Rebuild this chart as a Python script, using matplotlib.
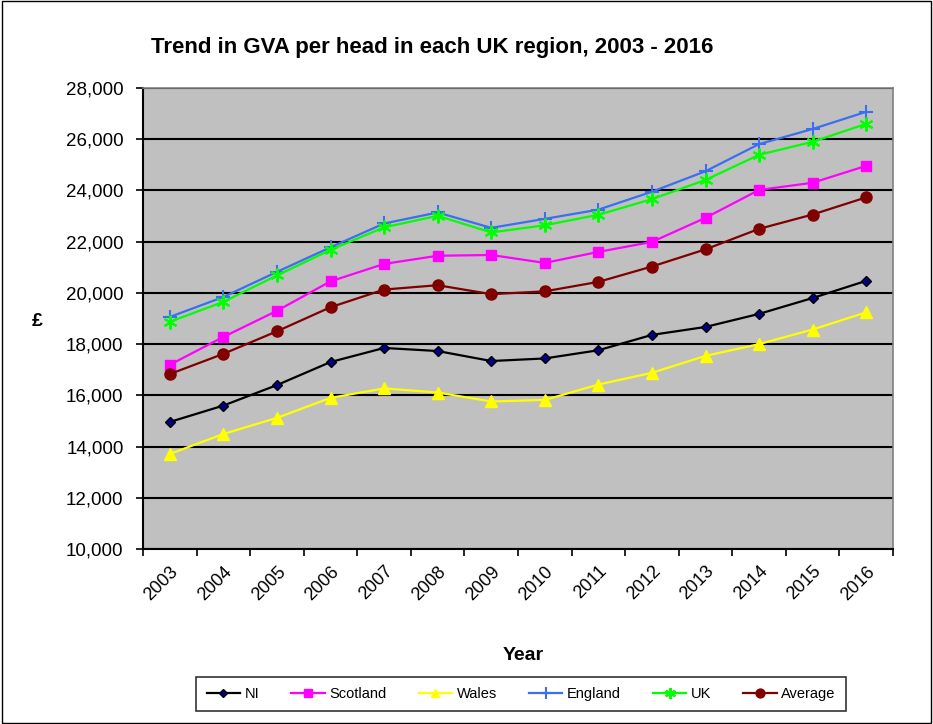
import numpy as np
import matplotlib.pyplot as plt
import matplotlib.transforms as mtransforms
from matplotlib.ticker import FuncFormatter, MultipleLocator, FixedLocator

plt.rcParams['font.family'] = ['Liberation Sans', 'DejaVu Sans']

years = [2003, 2004, 2005, 2006, 2007, 2008, 2009, 2010, 2011, 2012, 2013, 2014, 2015, 2016]
ni = [14960, 15600, 16400, 17300, 17850, 17730, 17340, 17440, 17760, 18360, 18670, 19180, 19800, 20470]
scotland = [17190, 18280, 19300, 20450, 21130, 21450, 21480, 21170, 21600, 21990, 22930, 24020, 24300, 24960]
wales = [13710, 14490, 15120, 15900, 16270, 16110, 15760, 15820, 16420, 16880, 17540, 18000, 18570, 19240]
england = [19060, 19840, 20820, 21780, 22710, 23140, 22540, 22890, 23250, 23950, 24750, 25810, 26400, 27070]
uk = [18870, 19650, 20680, 21680, 22560, 23010, 22360, 22640, 23050, 23660, 24410, 25390, 25900, 26600]
average = [16830, 17620, 18500, 19440, 20130, 20300, 19950, 20060, 20430, 21030, 21700, 22500, 23060, 23730]

series = [
    ("NI", ni, "black", "D", "#000080", 5),
    ("Scotland", scotland, "#FF00FF", "s", "#FF00FF", 7),
    ("Wales", wales, "#FFFF00", "^", "#FFFF00", 8),
    ("England", england, "#3A6FF0", "+", "#3A6FF0", 10),
    ("UK", uk, "#00FF00", (6, 2, 0), "#00FF00", 10),
    ("Average", average, "#800000", "o", "#800000", 8),
]

fig = plt.figure(figsize=(9.33, 7.24), dpi=100)
ax = fig.add_axes([143/933, 1-549/724, 750/933, 461/724])
ax.set_facecolor("#C0C0C0")

x = np.arange(len(years))
for name, vals, col, mk, fc, ms in series:
    ec = "black" if name == "NI" else fc
    ax.plot(x, vals, color=col, lw=1.6, marker=mk, markersize=ms,
            markerfacecolor=fc, markeredgecolor=ec, markeredgewidth=1.5 if mk in ("+", (6, 2, 0)) else 1,
            label=name, zorder=3)

ax.set_ylim(10000, 28000)
ax.set_xlim(-0.5, len(years) - 0.5)
ax.yaxis.set_major_locator(MultipleLocator(2000))
ax.yaxis.set_major_formatter(FuncFormatter(lambda v, p: f"{int(v):,}"))
ax.grid(axis="y", color="black", lw=1.5, zorder=1)

ax.set_xticks(x)
ax.set_xticklabels([str(y) for y in years], rotation=45, ha="right", rotation_mode="anchor", fontsize=13)
shift = mtransforms.ScaledTranslation(-5/100, 0, fig.dpi_scale_trans)
for lbl in ax.get_xticklabels():
    lbl.set_transform(lbl.get_transform() + shift)
ax.xaxis.set_minor_locator(FixedLocator(np.arange(-0.5, len(years), 1)))
ax.tick_params(axis="x", which="major", length=0, pad=10)
ax.tick_params(axis="x", which="minor", length=5, width=1.2, direction="out")
ax.tick_params(axis="y", length=5, width=1.2, labelsize=13.5, pad=9)

for s in ["top", "right"]:
    ax.spines[s].set_color("#808080")
    ax.spines[s].set_linewidth(1.2)
ax.spines["left"].set_linewidth(1.5)
ax.spines["bottom"].set_linewidth(1.5)

fig.text(432/933, 1-47/724, "Trend in GVA per head in each UK region, 2003 - 2016",
         ha="center", va="center", fontsize=16, fontweight="bold")
fig.text(523/933, 1-655/724, "Year", ha="center", va="center", fontsize=14, fontweight="bold")
fig.text(37/933, 1-322/724, "£", ha="center", va="center", fontsize=14, fontweight="bold")

leg = fig.legend(loc="center", bbox_to_anchor=(521/933, 1-694/724), ncol=6, frameon=True,
                 fancybox=False, edgecolor="black", fontsize=10.5, handlelength=2.3,
                 columnspacing=2.2, borderpad=0.7, handletextpad=0.3, markerscale=0.8)
leg.get_frame().set_linewidth(1.2)

fig.patches.append(plt.Rectangle((0.002, 0.002), 0.996, 0.996, transform=fig.transFigure,
                                 fill=False, edgecolor="black", lw=1))

fig.savefig("out.png", dpi=100)
